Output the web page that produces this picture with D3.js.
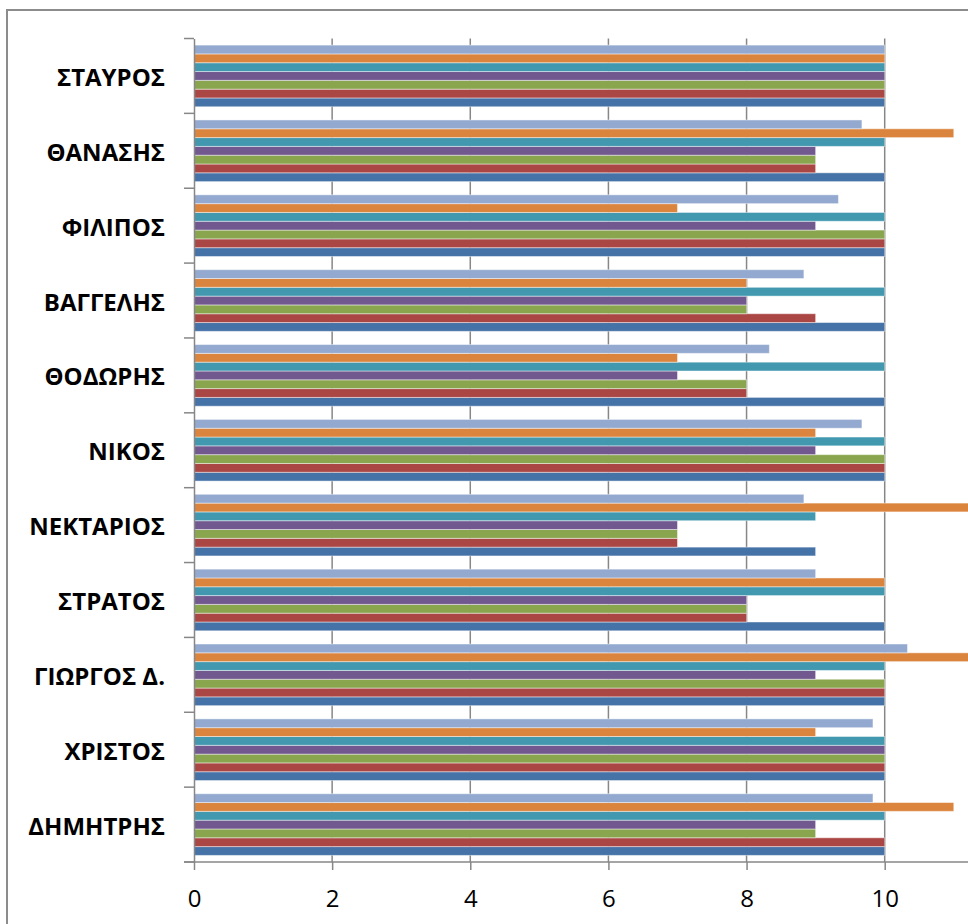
<!DOCTYPE html>
<html>
<head>
<meta charset="utf-8">
<script src="https://cdn.jsdelivr.net/npm/d3@7"></script>
<style>
    body { margin: 0; background: #fff; }
    svg { display: block; }
</style>
</head>
<body>
<div id="chart"></div>
<script>
// categories from bottom to top (excel order)
var categories = ["ΔΗΜΗΤΡΗΣ", "ΧΡΙΣΤΟΣ", "ΓΙΩΡΓΟΣ Δ.", "ΣΤΡΑΤΟΣ", "ΝΕΚΤΑΡΙΟΣ", "ΝΙΚΟΣ",
    "ΘΟΔΩΡΗΣ", "ΒΑΓΓΕΛΗΣ", "ΦΙΛΙΠΟΣ", "ΘΑΝΑΣΗΣ", "ΣΤΑΥΡΟΣ"];

var series1 = [10, 10, 10, 10, 9, 10, 10, 10, 10, 10, 10];
var series2 = [10, 10, 10, 8, 7, 10, 8, 9, 10, 9, 10];
var series3 = [9, 10, 10, 8, 7, 10, 8, 8, 10, 9, 10];
var series4 = [9, 10, 9, 8, 7, 9, 7, 8, 9, 9, 10];
var series5 = [10, 10, 10, 10, 9, 10, 10, 10, 10, 10, 10];
var series6 = [11, 9, 13, 10, 14, 9, 7, 8, 7, 11, 10];
var series7 = [9.83, 9.83, 10.33, 9, 8.83, 9.67, 8.33, 8.83, 9.33, 9.67, 10];

// 12 lies past the right edge of the picture
var xTicks = [0, 2, 4, 6, 8, 10];

var allSeries = [series1, series2, series3, series4, series5, series6, series7];
var colors = ["#4572A7", "#AA4643", "#89A54E", "#71588F", "#4198AF", "#DB843D", "#93A9CF"];

var width = 968, height = 924;
var margin = {top: 38.5, left: 194, bottom: 862};
var unit = 69.07;

var svg = d3.select("#chart").append("svg")
    .attr("width", width)
    .attr("height", height);

// chart frame (right and bottom edges are outside the picture)
svg.append("rect")
    .attr("x", 7).attr("y", 10)
    .attr("width", 2000).attr("height", 2000)
    .attr("fill", "#fff")
    .attr("stroke", "#8c8c8c")
    .attr("stroke-width", 2);

var x = d3.scaleLinear()
    .domain([0, 12])
    .range([margin.left, margin.left + 12 * unit]);

// top category is the last one
var y = d3.scaleBand()
    .domain(categories.slice().reverse())
    .range([margin.top, margin.bottom])
    .padding(0);

var inner = d3.scaleBand()
    .domain(d3.range(allSeries.length).reverse())
    .range([0, y.bandwidth()])
    .paddingInner(0)
    .paddingOuter(0.75);

// gridlines
svg.append("g")
    .selectAll("line")
    .data(xTicks.slice(1).concat([12]))
    .enter().append("line")
    .attr("x1", function (d) { return x(d); })
    .attr("x2", function (d) { return x(d); })
    .attr("y1", margin.top)
    .attr("y2", margin.bottom)
    .attr("stroke", "#878787")
    .attr("stroke-width", 1.5);

// bars
var groups = svg.append("g")
    .selectAll("g")
    .data(allSeries)
    .enter().append("g")
    .attr("fill", function (d, i) { return colors[i]; });

groups.each(function (vals, si) {
    d3.select(this).selectAll("rect")
        .data(vals)
        .enter().append("rect")
        .attr("x", x(0))
        .attr("y", function (d, i) { return y(categories[i]) + inner(si); })
        .attr("width", function (d) { return x(d) - x(0); })
        .attr("height", inner.bandwidth())
        .attr("stroke", "#ffffff")
        .attr("stroke-opacity", 0.45)
        .attr("stroke-width", 1);
});

// category axis
var yAxis = d3.axisLeft(y)
    .tickSize(0)
    .tickPadding(29);

var gy = svg.append("g")
    .attr("transform", "translate(" + margin.left + ",0)")
    .call(yAxis);
gy.select(".domain").attr("stroke", "#878787").attr("stroke-width", 1.5);
gy.selectAll("text")
    .attr("dy", "0.42em")
    .style("font-family", "'Open Sans', sans-serif")
    .style("font-weight", "bold")
    .style("font-size", "24px")
    .attr("fill", "#000");

// category boundary ticks
svg.append("g")
    .selectAll("line")
    .data(d3.range(categories.length + 1))
    .enter().append("line")
    .attr("x1", margin.left - 10)
    .attr("x2", margin.left)
    .attr("y1", function (d) { return margin.top + d * y.step(); })
    .attr("y2", function (d) { return margin.top + d * y.step(); })
    .attr("stroke", "#878787")
    .attr("stroke-width", 1.5);

// value axis
var xAxis = d3.axisBottom(x)
    .tickValues(xTicks)
    .tickSizeInner(8)
    .tickSizeOuter(0)
    .tickPadding(20);

var gx = svg.append("g")
    .attr("transform", "translate(0," + margin.bottom + ")")
    .call(xAxis);
gx.select(".domain")
    .attr("d", "M" + (margin.left - 10) + ",0H" + x(12))
    .attr("stroke", "#878787").attr("stroke-width", 1.5);
gx.selectAll(".tick line").attr("stroke", "#878787").attr("stroke-width", 1.5);
gx.selectAll("text")
    .style("font-family", "'Open Sans', sans-serif")
    .style("font-size", "24px")
    .attr("fill", "#000");
</script>
</body>
</html>
